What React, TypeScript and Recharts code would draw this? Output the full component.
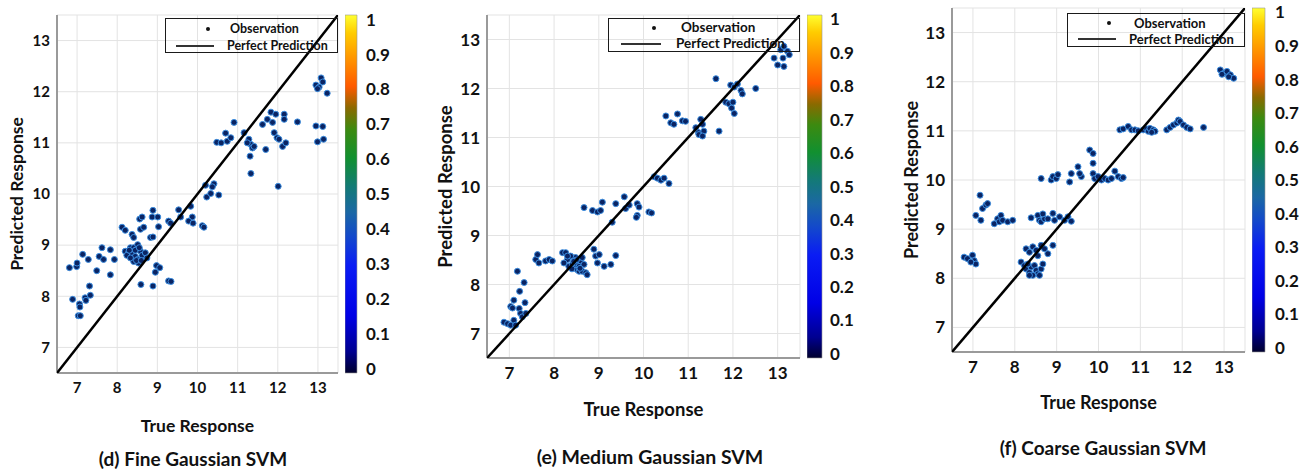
import React from 'react'
import { ScatterChart, Scatter, XAxis, YAxis, CartesianGrid, Legend, BarChart, Bar } from 'recharts'

const FONT = 'Lato, "Open Sans", sans-serif'

const axisTicks = [7, 8, 9, 10, 11, 12, 13]
const colorTicks = [0, 0.1, 0.2, 0.3, 0.4, 0.5, 0.6, 0.7, 0.8, 0.9, 1]
const diagonal = [6.5, 13.5]

// (d) Fine Gaussian SVM
const fineTrue = [
  6.81, 6.99, 7.0, 7.14, 7.28, 7.49, 7.55, 7.62, 7.66, 7.83, 7.93, 7.83,
  6.89, 7.06, 7.07, 7.03, 7.08, 7.2, 7.22, 7.33, 7.31,
  8.12, 8.2, 8.37, 8.41,
  8.2, 8.28, 8.33, 8.37, 8.24, 8.45, 8.51, 8.41, 8.51, 8.58, 8.62, 8.7, 8.53, 8.41, 8.33, 8.74, 8.45, 8.55, 8.3, 8.48, 8.6,
  8.56, 8.62, 8.58, 8.66, 8.83, 8.89, 8.87, 8.89, 9.01, 9.03,
  9.28, 9.33, 9.53, 9.58, 9.83, 9.87, 9.78, 9.89, 10.12, 10.16,
  8.98, 9.06, 8.95, 9.28, 9.34, 8.59, 8.89,
  10.2, 10.41, 10.37, 10.23, 10.33, 10.53,
  10.48, 10.59, 10.74, 10.83, 10.7, 10.91,
  11.16, 11.28, 11.33, 11.37, 11.24, 11.41, 11.31, 11.33, 11.7, 11.62, 11.74, 11.83, 11.95, 11.87, 11.91, 11.98, 12.03,
  12.16, 12.16, 12.12, 12.2, 12.01, 12.49,
  12.95, 13.12, 12.99, 13.14,
  12.95, 13.03, 13.08, 13.12, 12.99, 13.23,
]
const finePred = [
  8.56, 8.58, 8.65, 8.82, 8.72, 8.5, 8.78, 8.95, 8.72, 8.91, 8.72, 8.42,
  7.94, 7.85, 7.79, 7.62, 7.62, 7.97, 7.92, 8.02, 8.2,
  9.35, 9.29, 9.21, 9.15,
  8.88, 8.85, 8.95, 8.82, 8.8, 8.78, 8.72, 8.95, 9.01, 8.88, 8.8, 8.85, 8.65, 8.68, 8.75, 8.75, 8.9, 8.95, 8.9, 8.7, 8.7,
  9.51, 9.55, 9.31, 9.35, 9.15, 9.16, 9.55, 9.68, 9.55, 9.36,
  9.47, 9.43, 9.69, 9.55, 9.76, 9.55, 9.47, 9.43, 9.38, 9.35,
  8.6, 8.56, 8.47, 8.3, 8.29, 8.23, 8.2,
  10.17, 10.2, 10.14, 9.94, 10.01, 9.98,
  11.01, 11.0, 11.03, 11.1, 11.19, 11.4,
  11.2, 11.07, 10.97, 10.9, 11.0, 10.93, 10.74, 10.4, 10.87, 11.36, 11.46, 11.6, 11.56, 11.4, 11.2, 11.1, 11.07,
  11.56, 11.46, 10.93, 11.0, 10.15, 11.41,
  11.33, 11.32, 11.02, 11.07,
  12.13, 12.09, 12.27, 12.19, 12.06, 11.97,
]

// (e) Medium Gaussian SVM
const mediumTrue = [
  6.88, 6.96, 7.03, 7.1, 7.14, 7.03, 7.07, 7.1, 7.22, 7.25, 7.29, 7.35, 7.37, 7.23, 7.33, 7.18,
  7.59, 7.63, 7.66, 7.81, 7.89, 7.96,
  8.19, 8.26, 8.3, 8.22, 8.33, 8.41, 8.45, 8.48, 8.52, 8.56, 8.6, 8.63, 8.67, 8.56, 8.63, 8.71, 8.74, 8.48, 8.37, 8.3, 8.4, 8.5, 8.58, 8.44,
  8.89, 8.93, 8.97, 9.01, 9.12, 9.27, 9.38,
  8.67, 8.86, 8.97, 9.04, 9.08, 9.3, 9.38, 9.57, 9.6, 9.68, 9.86, 9.9, 9.86, 9.84, 10.12, 10.18,
  10.24, 10.31, 10.39, 10.46, 10.57,
  10.5, 10.61, 10.68, 10.76, 10.87, 10.94,
  11.17, 11.23, 11.28, 11.32, 11.24, 11.35, 11.32, 11.69,
  11.84, 11.91, 11.97, 12.0, 12.03,
  11.62, 11.95, 12.03, 12.1, 12.18, 12.21, 12.51,
  12.92, 13.0, 13.14, 13.12, 13.22, 13.26, 13.07, 13.14,
]
const mediumPred = [
  7.23, 7.2, 7.17, 7.27, 7.17, 7.55, 7.52, 7.68, 7.51, 7.41, 7.34, 7.63, 7.41, 7.86, 8.04, 8.27,
  8.51, 8.61, 8.44, 8.48, 8.51, 8.48,
  8.65, 8.65, 8.51, 8.44, 8.37, 8.41, 8.34, 8.44, 8.3, 8.37, 8.48, 8.55, 8.41, 8.27, 8.27, 8.24, 8.2, 8.55, 8.58, 8.58, 8.32, 8.5, 8.33, 8.47,
  8.72, 8.58, 8.44, 8.61, 8.37, 8.41, 8.59,
  9.57, 9.51, 9.48, 9.51, 9.68, 9.27, 9.65, 9.79, 9.55, 9.62, 9.65, 9.58, 9.41, 9.37, 9.48, 9.46,
  10.2, 10.17, 10.13, 10.17, 10.06,
  11.44, 11.3, 11.27, 11.48, 11.34, 11.33,
  11.2, 11.1, 11.37, 11.27, 11.06, 11.13, 11.03, 11.13,
  11.72, 11.69, 11.6, 11.72, 11.49,
  12.2, 12.07, 12.03, 12.09, 11.96, 11.89, 12.0,
  12.62, 12.48, 12.45, 12.62, 12.76, 12.69, 12.79, 12.86,
]

// (f) Coarse Gaussian SVM
const coarseTrue = [
  6.79, 6.87, 6.99, 7.03, 7.07, 6.95,
  7.07, 7.19, 7.17, 7.23, 7.31, 7.35,
  7.51, 7.59, 7.63, 7.67, 7.71, 7.83, 7.95,
  8.15, 8.23, 8.27, 8.35, 8.39, 8.47, 8.51, 8.55, 8.63, 8.67, 8.31, 8.43, 8.59, 8.35,
  8.27, 8.35, 8.43, 8.51, 8.63, 8.71, 8.79, 8.91, 8.55,
  8.39, 8.55, 8.59, 8.63, 8.71, 8.67, 8.79, 8.91, 8.95, 9.07, 9.19, 9.27, 9.35,
  8.63, 8.87, 8.91, 8.99, 9.03, 9.31, 9.35, 9.51, 9.59, 9.55,
  9.79, 9.87, 9.87,
  9.87, 9.91, 9.99, 10.07, 10.15, 10.23, 10.31, 10.39, 10.47, 10.55, 10.59,
  10.51, 10.59, 10.71, 10.79, 10.87, 10.95, 11.07, 11.15, 11.19, 11.23, 11.31, 11.35, 11.27,
  11.63, 11.71, 11.79, 11.87, 11.91, 11.95, 12.03, 12.11, 12.19, 12.51,
  12.91, 12.99, 13.07, 13.15, 13.23, 12.95, 13.11,
]
const coarsePred = [
  8.43, 8.4, 8.47, 8.36, 8.29, 8.33,
  9.28, 9.18, 9.69, 9.42, 9.49, 9.52,
  9.11, 9.21, 9.15, 9.28, 9.18, 9.15, 9.18,
  8.33, 8.26, 8.19, 8.12, 8.23, 8.26, 8.16, 8.09, 8.19, 8.29, 8.29, 8.06, 8.06, 8.06,
  8.6, 8.53, 8.64, 8.57, 8.67, 8.6, 8.5, 8.67, 8.46,
  9.23, 9.28, 9.18, 9.15, 9.21, 9.31, 9.21, 9.32, 9.18, 9.25, 9.18, 9.25, 9.16,
  10.03, 10.0, 10.07, 10.03, 10.11, 9.96, 10.13, 10.27, 10.07, 10.13,
  10.61, 10.54, 10.34,
  10.13, 10.03, 10.07, 10.0, 10.03, 10.0, 10.03, 10.18, 10.07, 10.03, 10.05,
  11.02, 11.04, 11.09, 11.02, 11.02, 11.0, 11.02, 11.04, 10.99, 11.05, 11.02, 10.99, 10.97,
  11.02, 11.07, 11.12, 11.16, 11.22, 11.19, 11.12, 11.07, 11.04, 11.07,
  12.24, 12.17, 12.21, 12.14, 12.07, 12.15, 12.1,
]

const zip = (xs: number[], ys: number[]) => xs.map((x, i) => ({ x, y: ys[i] }))
const lineData = diagonal.map((v) => ({ x: v, y: v }))

const panels = [
  {
    id: 'd', caption: '(d) Fine Gaussian SVM', points: zip(fineTrue, finePred),
    left: 0, width: 340, top: 15, bottom: 373, xAxisH: 59, labelOff: 17, tickFs: 15, titleFs: 17.5,
    legend: { x: 165, y: 18, w: 173, h: 35, fs: 12.5, dot: 42, lineL: 10, lineW: 38, obs: 64, perf: 61, r1: 10, r2: 27 },
    cb: { left: 345, w: 12, gap: 9 },
    cap: { x: 193, y: 459, fs: 19 },
  },
  {
    id: 'e', caption: '(e) Medium Gaussian SVM', points: zip(mediumTrue, mediumPred),
    left: 430, width: 372, top: 15, bottom: 358, xAxisH: 58, labelOff: 15, tickFs: 17, titleFs: 18.5,
    legend: { x: 178, y: 18, w: 192, h: 34, fs: 13.5, dot: 45, lineL: 12, lineW: 40, obs: 72, perf: 67, r1: 9, r2: 25 },
    cb: { left: 807, w: 15, gap: 8 },
    cap: { x: 650, y: 457, fs: 19.5 },
  },
  {
    id: 'f', caption: '(f) Coarse Gaussian SVM', points: zip(coarseTrue, coarsePred),
    left: 895, width: 352, top: 8, bottom: 352, xAxisH: 57, labelOff: 17, tickFs: 17, titleFs: 18,
    legend: { x: 172, y: 13, w: 178, h: 34, fs: 13, dot: 41, lineL: 10, lineW: 38, obs: 66, perf: 61, r1: 9, r2: 25 },
    cb: { left: 1252, w: 13, gap: 10 },
    cap: { x: 1103, y: 448, fs: 19 },
  },
]

const gradientStops: [number, string][] = [
  [0, '#00002e'], [0.06, '#000090'], [0.16, '#0000e6'], [0.3, '#0a1cf4'], [0.38, '#1348cc'],
  [0.45, '#1b68a4'], [0.52, '#137a76'], [0.6, '#119030'], [0.68, '#3c8a10'], [0.74, '#8a6a00'],
  [0.8, '#ff5a00'], [0.88, '#ff9600'], [0.95, '#ffcc00'], [1, '#ffff30'],
]

const Dot = (props: any) => (
  <circle cx={props.cx} cy={props.cy} r={3} fill="#0a2463" stroke="#3d8ee0" strokeWidth={1} />
)

// MATLAB-style colorbar labels sit a bit inside the bar ends
const ColorTick = (props: any) => {
  const { x, y, payload, top, bottom } = props
  const mid = (top + bottom) / 2
  const yy = y + (mid - y) * 0.025
  return (
    <text x={x} y={yy} dy="0.36em" textAnchor="start" fill="#111" fontSize={17} fontWeight={700} fontFamily={FONT}>
      {payload.value}
    </text>
  )
}

function legendContent(lg: any) {
  return (props: any) => {
    const items = props.payload || []
    return (
      <div style={{ position: 'relative', width: lg.w, height: lg.h, boxSizing: 'border-box', border: '1.5px solid #1a1a1a', fontFamily: FONT, fontWeight: 700, fontSize: lg.fs, color: '#111' }}>
        {items.map((it: any, i: number) => {
          const cy = i === 0 ? lg.r1 : lg.r2
          return (
            <React.Fragment key={it.value}>
              {i === 0 ? (
                <span style={{ position: 'absolute', left: lg.dot - 2, top: cy - 2, width: 4, height: 4, borderRadius: 2, background: '#111' }} />
              ) : (
                <span style={{ position: 'absolute', left: lg.lineL, top: cy - 1, width: lg.lineW, height: 2, background: '#333' }} />
              )}
              <span style={{ position: 'absolute', left: i === 0 ? lg.obs : lg.perf, top: cy, transform: 'translateY(-50%)', lineHeight: 1, whiteSpace: 'nowrap' }}>
                {it.value}
              </span>
            </React.Fragment>
          )
        })}
      </div>
    )
  }
}

function Panel({ p }: { p: (typeof panels)[number] }) {
  const tick = { fill: '#111', fontSize: p.tickFs, fontWeight: 700, fontFamily: FONT }
  const title = { fill: '#111', fontSize: p.titleFs, fontWeight: 700, fontFamily: FONT }
  return (
    <>
      <div style={{ position: 'absolute', left: p.left, top: 0 }}>
        <ScatterChart width={p.width} height={470} margin={{ top: p.top, right: 2, left: 0, bottom: 470 - p.bottom - p.xAxisH }}>
          <CartesianGrid stroke="#e3e3e3" />
          <XAxis
            type="number" dataKey="x" domain={[6.5, 13.5]} ticks={axisTicks} allowDataOverflow
            height={p.xAxisH} stroke="#9a9a9a" strokeWidth={2} tickLine={false} tickSize={4} tickMargin={5} tick={tick}
            label={{ value: 'True Response', position: 'insideBottom', offset: 0, ...title }}
          />
          <YAxis
            type="number" dataKey="y" domain={[6.5, 13.5]} ticks={axisTicks} allowDataOverflow
            width={57} stroke="#9a9a9a" strokeWidth={2} tickLine={false} tickSize={4} tickMargin={3} tick={tick}
            label={{ value: 'Predicted Response', angle: -90, position: 'insideLeft', offset: p.labelOff, style: { textAnchor: 'middle' }, ...title }}
          />
          <Legend
            layout="horizontal" verticalAlign="middle" align="center"
            wrapperStyle={{ left: p.legend.x, top: p.legend.y, width: p.legend.w, height: p.legend.h }}
            content={legendContent(p.legend)}
          />
          <Scatter name="Observation" data={p.points} shape={Dot} isAnimationActive={false} />
          <Scatter name="Perfect Prediction" data={lineData} line={{ stroke: '#000', strokeWidth: 2.5 }} shape={() => <g />} legendType="line" isAnimationActive={false} />
        </ScatterChart>
      </div>
      <div style={{ position: 'absolute', left: p.cb.left, top: 0 }}>
        <BarChart width={p.cb.w + 50} height={470} data={[{ k: 'c', v: 1 }]} barCategoryGap={0} margin={{ top: p.top, right: 0, left: 0, bottom: 470 - p.bottom }}>
          <defs>
            <linearGradient id={`cb-${p.id}`} x1="0" y1="1" x2="0" y2="0">
              {gradientStops.map(([o, c]) => (
                <stop key={o} offset={o} stopColor={c} />
              ))}
            </linearGradient>
          </defs>
          <XAxis dataKey="k" hide />
          <YAxis
            orientation="right" domain={[0, 1]} ticks={colorTicks} interval={0} width={50}
            axisLine={false} tickLine={false} tickSize={4} tickMargin={p.cb.gap - 4}
            tick={<ColorTick top={p.top} bottom={p.bottom} />}
          />
          <Bar dataKey="v" fill={`url(#cb-${p.id})`} stroke="#999" strokeWidth={0.6} isAnimationActive={false} />
        </BarChart>
      </div>
      <div style={{ position: 'absolute', left: p.cap.x - 160, top: p.cap.y - 12, width: 320, lineHeight: '24px', textAlign: 'center', fontFamily: FONT, fontWeight: 700, fontSize: p.cap.fs, color: '#111' }}>
        {p.caption}
      </div>
    </>
  )
}

export default function App() {
  return (
    <div style={{ position: 'absolute', left: 0, top: 0, width: 1308, height: 470, background: '#fff', overflow: 'hidden' }}>
      {panels.map((p) => (
        <Panel key={p.id} p={p} />
      ))}
    </div>
  )
}
